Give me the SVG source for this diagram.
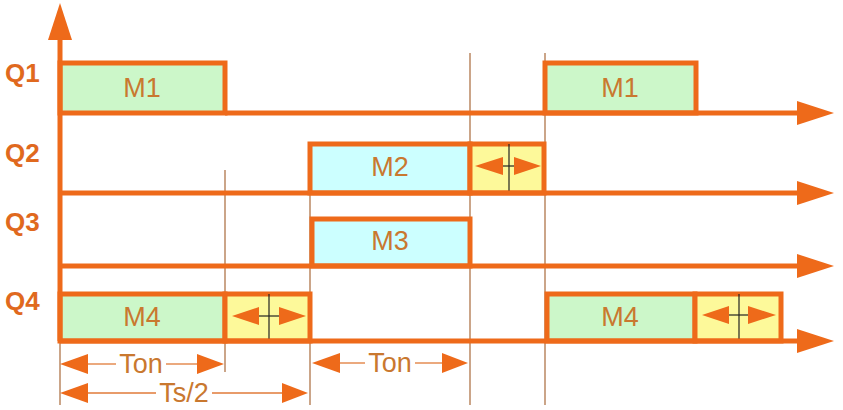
<svg xmlns="http://www.w3.org/2000/svg" width="843" height="410" viewBox="0 0 843 410">
<style>
.ax{stroke:#ee6a1a;stroke-width:5;fill:none}
.ah{fill:#ee6a1a;stroke:none}
.pulse{stroke:#ee6a1a;stroke-width:5}
.g{fill:#ccf7c9}
.c{fill:#ccffff}
.y{fill:#fdf99a}
.guide{stroke:#a8693a;stroke-width:1.2;fill:none}
.blk{stroke:#222;stroke-width:1.2;fill:none}
.thin{stroke:#e07a38;stroke-width:1.3;fill:none}
.lbl{font-family:"Liberation Sans",Arial,sans-serif;font-size:27px;fill:#c9782f;text-anchor:middle}
.q{font-family:"Liberation Sans",Arial,sans-serif;font-size:26px;font-weight:bold;fill:#e0691e}
</style>
<rect width="843" height="410" fill="#ffffff"/>

<g id="guides">
<line class="guide" x1="225" y1="170" x2="225" y2="372"/>
<line class="guide" x1="310" y1="144" x2="310" y2="405"/>
<line class="guide" x1="470" y1="53" x2="470" y2="405"/>
<line class="guide" x1="545" y1="53" x2="545" y2="405"/>
<line class="guide" x1="60" y1="341" x2="60" y2="405"/>
</g>

<g id="q-labels">
<text class="q" x="5" y="82">Q1</text>
<text class="q" x="5" y="162">Q2</text>
<text class="q" x="5" y="231">Q3</text>
<text class="q" x="5" y="310">Q4</text>
</g>

<g id="pulse-m1a"><rect class="pulse g" x="60" y="63" width="165" height="50"/><text class="lbl" x="142" y="97">M1</text></g>
<g id="pulse-m1b"><rect class="pulse g" x="545" y="63" width="151" height="50"/><text class="lbl" x="620" y="97">M1</text></g>
<g id="pulse-m2"><rect class="pulse c" x="310" y="144" width="160" height="49"/><text class="lbl" x="390" y="176">M2</text></g>
<g id="dead-q2"><rect class="pulse y" x="470" y="144" width="74" height="49"/>
<line class="blk" x1="509" y1="144" x2="509" y2="193"/><line class="blk" x1="503" y1="166" x2="514" y2="166"/>
<polygon class="ah" points="475,166 503,157 503,175"/><polygon class="ah" points="541,166 514,157 514,175"/></g>
<g id="pulse-m3"><rect class="pulse c" x="312" y="219" width="158" height="47"/><text class="lbl" x="390" y="250">M3</text></g>
<g id="pulse-m4a"><rect class="pulse g" x="60" y="294" width="165" height="47"/><text class="lbl" x="142" y="326">M4</text></g>
<g id="dead-q4a"><rect class="pulse y" x="225" y="294" width="85" height="47"/>
<line class="blk" x1="269" y1="294" x2="269" y2="341"/><line class="blk" x1="259" y1="316" x2="279" y2="316"/>
<polygon class="ah" points="232,316 259,307 259,325"/><polygon class="ah" points="306,316 279,307 279,325"/></g>
<g id="pulse-m4b"><rect class="pulse g" x="547" y="294" width="148" height="47"/><text class="lbl" x="620" y="326">M4</text></g>
<g id="dead-q4b"><rect class="pulse y" x="695" y="294" width="86" height="47"/>
<line class="blk" x1="739" y1="294" x2="739" y2="341"/><line class="blk" x1="729" y1="315" x2="748" y2="315"/>
<polygon class="ah" points="702,315 729,306 729,324"/><polygon class="ah" points="776,315 748,306 748,324"/></g>

<g id="connectors">
<line class="ax" x1="60" y1="38" x2="60" y2="341"/>
<polygon class="ah" points="60,3 48,40 72,40"/>
<line class="ax" x1="225" y1="113" x2="800" y2="113"/>
<polygon class="ah" points="834,113 797,101 797,125"/>
<line class="ax" x1="60" y1="193" x2="800" y2="193"/>
<polygon class="ah" points="834,193 797,181 797,205"/>
<line class="ax" x1="60" y1="266" x2="800" y2="266"/>
<polygon class="ah" points="834,266 797,254 797,278"/>
<line class="ax" x1="60" y1="341" x2="800" y2="341"/>
<polygon class="ah" points="834,341 797,329 797,353"/>
</g>

<g id="dimensions">
<polygon class="ah" points="60,364 88,354 88,374"/><polygon class="ah" points="224,364 197,354 197,374"/>
<line class="thin" x1="88" y1="364" x2="116" y2="364"/><line class="thin" x1="166" y1="364" x2="197" y2="364"/>
<text class="lbl" x="141" y="373">Ton</text>
<polygon class="ah" points="312,363 340,353 340,373"/><polygon class="ah" points="468,363 442,353 442,373"/>
<line class="thin" x1="340" y1="363" x2="365" y2="363"/><line class="thin" x1="415" y1="363" x2="442" y2="363"/>
<text class="lbl" x="390" y="372">Ton</text>
<polygon class="ah" points="60,393 88,383 88,403"/><polygon class="ah" points="308,393 282,383 282,403"/>
<line class="thin" x1="88" y1="393" x2="156" y2="393"/><line class="thin" x1="212" y1="393" x2="282" y2="393"/>
<text class="lbl" x="184" y="402">Ts/2</text>
</g>
</svg>
